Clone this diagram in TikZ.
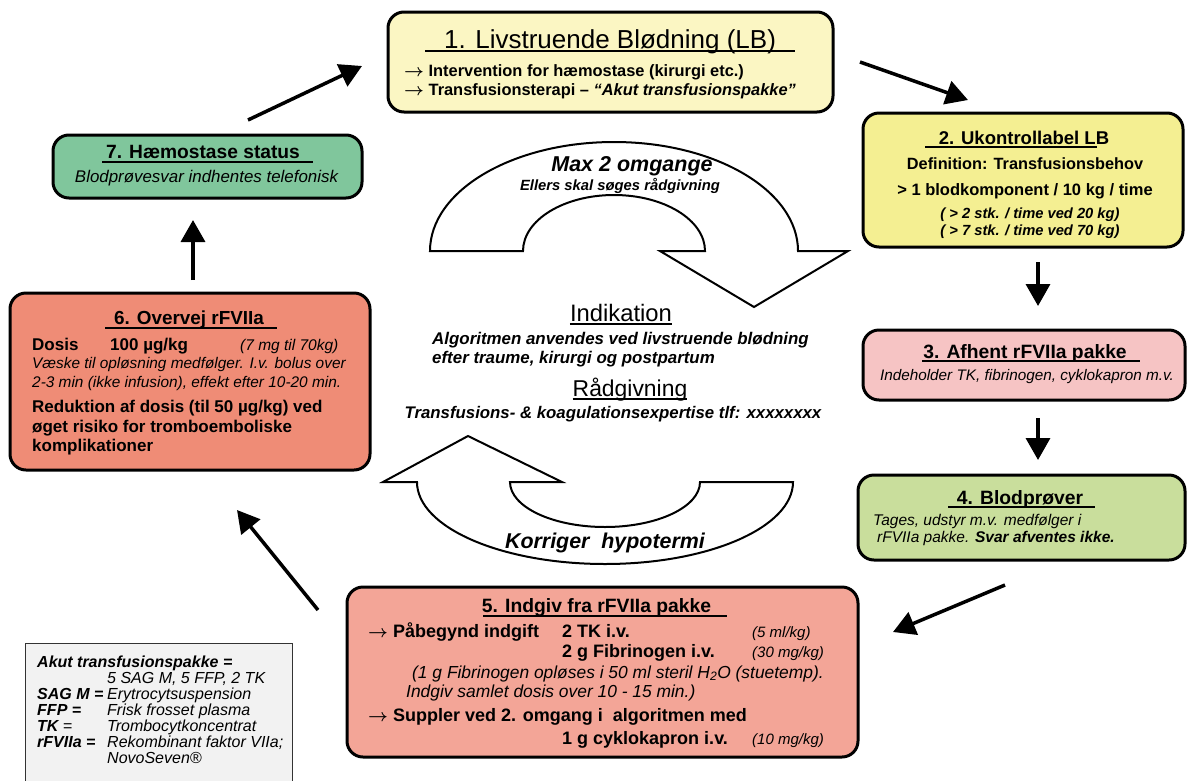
\documentclass[tikz,border=0pt]{standalone}
\usepackage{fontspec}
\setmainfont{Liberation Sans}
\usetikzlibrary{arrows.meta}
\newcommand\fsz[1]{\fontsize{#1}{#1}\selectfont}
\newcommand\arw{\ensuremath{\boldsymbol{\rightarrow}}}
\usepackage{amsmath}
\definecolor{cone}{HTML}{FBF6C3}
\definecolor{ctwo}{HTML}{F4EF92}
\definecolor{cthree}{HTML}{F6C4C4}
\definecolor{cfour}{HTML}{C9DE9C}
\definecolor{cfive}{HTML}{F3A597}
\definecolor{csix}{HTML}{EF8C76}
\definecolor{cseven}{HTML}{80C69C}
\definecolor{cleg}{HTML}{F2F2F2}
\begin{document}
\begin{tikzpicture}[x=1pt,y=-1pt,
  box/.style={draw=black, line width=3pt, rounded corners=16pt, inner sep=0pt},
  lt/.style={inner sep=0pt, anchor=base west},
  ct/.style={inner sep=0pt, anchor=base},
  ul/.style={line width=1.8pt},
  flow/.style={line width=3.5pt, -{Triangle[length=22pt,width=24pt]}},
  big/.style={draw=black, line width=2pt, fill=white, line join=miter}
]
\useasboundingbox (0,0) rectangle (1187,780);

% ---------- Box 1
\node[box, fill=cone, minimum width=445pt, minimum height=100pt] (b1) at (610.5,62) {};
\node[ct, font=\fsz{26}] (t1) at (610,48) {1. Livstruende Blødning (LB)};
\draw[ul] (425,51) -- (795,51);
\node[lt, font=\bfseries\fsz{16.4}] (l11) at (404,76) {\arw\ Intervention for hæmostase (kirurgi etc.)};
\node[lt, font=\bfseries\fsz{16.4}] (l12) at (404,95) {\arw\ Transfusionsterapi – \textit{“Akut transfusionspakke”}};

% ---------- Box 2
\node[box, fill=ctwo, minimum width=320pt, minimum height=134pt] (b2) at (1023,180) {};
\node[ct, font=\bfseries\fsz{18.5}] (t2) at (1024,144) {2. Ukontrollabel LB};
\draw[ul] (925,147) -- (1097,147);
\node[ct, font=\bfseries\fsz{16.3}] (l21) at (1025,169) {Definition: Transfusionsbehov};
\node[ct, font=\bfseries\fsz{16.5}] (l22) at (1025,195) {> 1 blodkomponent / 10 kg / time};
\node[ct, font=\bfseries\itshape\fsz{14.7}] (l23) at (1030,218) {( > 2 stk. / time ved 20 kg)};
\node[ct, font=\bfseries\itshape\fsz{14.7}] (l24) at (1030,235) {( > 7 stk. / time ved 70 kg)};

% ---------- Box 3
\node[box, fill=cthree, minimum width=322pt, minimum height=70pt] (b3) at (1024,365) {};
\node[ct, font=\bfseries\fsz{19.3}] (t3) at (1025,358) {3. Afhent rFVIIa pakke};
\draw[ul] (922,361) -- (1140,361);
\node[ct, font=\itshape\fsz{15.3}] (l31) at (1027,380) {Indeholder TK, fibrinogen, cyklokapron m.v.};

% ---------- Box 4
\node[box, fill=cfour, minimum width=327pt, minimum height=85pt] (b4) at (1021.5,517.5) {};
\node[ct, font=\bfseries\fsz{19.3}] (t4) at (1020,504) {4. Blodprøver};
\draw[ul] (948,507) -- (1095,507);
\node[lt, font=\itshape\fsz{15.5}] (l41) at (873,525) {Tages, udstyr m.v. medfølger i};
\node[lt, font=\itshape\fsz{15.5}] (l42) at (877,542) {rFVIIa pakke. \textbf{Svar afventes ikke.}};

% ---------- Box 5
\node[box, fill=cfive, minimum width=511pt, minimum height=170pt] (b5) at (602.5,672) {};
\node[ct, font=\bfseries\fsz{19.3}] (t5) at (596.5,612) {5. Indgiv fra rFVIIa pakke};
\draw[ul] (483,616) -- (727,616);
\node[lt, font=\bfseries\fsz{18}] (l51) at (368,637) {\arw\ Påbegynd indgift};
\node[lt, font=\bfseries\fsz{18}] (l52) at (562,637) {2 TK i.v.};
\node[lt, font=\itshape\fsz{15}] (l53) at (752,637) {(5 ml/kg)};
\node[lt, font=\bfseries\fsz{18}] (l54) at (562,657) {2 g Fibrinogen i.v.};
\node[lt, font=\itshape\fsz{15}] (l55) at (752,657) {(30 mg/kg)};
\node[lt, font=\itshape\fsz{17.4}] (l56) at (412,678) {(1 g Fibrinogen opløses i 50 ml steril H\textsubscript{2}O (stuetemp).};
\node[lt, font=\itshape\fsz{17.4}] (l57) at (406,697) {Indgiv samlet dosis over 10 - 15 min.)};
\node[lt, font=\bfseries\fsz{18}] (l58) at (368,721) {\arw\ Suppler ved 2. omgang i\ \ algoritmen med};
\node[lt, font=\bfseries\fsz{18}] (l59) at (562,744) {1 g cyklokapron i.v.};
\node[lt, font=\itshape\fsz{15}] (l510) at (752,744) {(10 mg/kg)};

% ---------- Box 6
\node[box, fill=csix, minimum width=360pt, minimum height=177pt] (b6) at (190,381.5) {};
\node[ct, font=\bfseries\fsz{18.9}] (t6) at (189,324) {6. Overvej rFVIIa};
\draw[ul] (105,328) -- (277,328);
\node[lt, font=\bfseries\fsz{17}] (l61) at (32,350) {Dosis};
\node[lt, font=\bfseries\fsz{17}] (l62) at (110,350) {100 µg/kg};
\node[lt, font=\itshape\fsz{15.5}] (l63) at (240,350) {(7 mg til 70kg)};
\node[lt, font=\itshape\fsz{15.4}] (l64) at (32,368) {Væske til opløsning medfølger. I.v. bolus over};
\node[lt, font=\itshape\fsz{15.4}] (l65) at (32,387) {2-3 min (ikke infusion), effekt efter 10-20 min.};
\node[lt, font=\bfseries\fsz{17}] (l66) at (32,412) {Reduktion af dosis (til 50 µg/kg) ved};
\node[lt, font=\bfseries\fsz{17}] (l67) at (32,432) {øget risiko for tromboemboliske};
\node[lt, font=\bfseries\fsz{17}] (l68) at (32,451) {komplikationer};

% ---------- Box 7
\node[box, fill=cseven, minimum width=309pt, minimum height=63pt] (b7) at (207.5,166.5) {};
\node[ct, font=\bfseries\fsz{19.2}] (t7) at (203,158) {7. Hæmostase status};
\draw[ul] (102,162) -- (313,162);
\node[ct, font=\itshape\fsz{16.9}] (l71) at (206.5,182) {Blodprøvesvar indhentes telefonisk};

% ---------- Legend
\node[draw=black!80, line width=1pt, fill=cleg, minimum width=267pt, minimum height=147pt, inner sep=0pt] (leg) at (158.5,716.5) {};
\node[lt, font=\bfseries\itshape\fsz{16}] (g1) at (37,667) {Akut transfusionspakke =};
\node[lt, font=\itshape\fsz{16}] (g2) at (107,683) {5 SAG M, 5 FFP, 2 TK};
\node[lt, font=\bfseries\itshape\fsz{16}] (g3) at (37,699) {SAG M =};
\node[lt, font=\itshape\fsz{16}] (g4) at (107,699) {Erytrocytsuspension};
\node[lt, font=\bfseries\itshape\fsz{16}] (g5) at (37,715) {FFP =};
\node[lt, font=\itshape\fsz{16}] (g6) at (107,715) {Frisk frosset plasma};
\node[lt, font=\itshape\fsz{16}] (g7) at (37,731) {\textbf{TK} =};
\node[lt, font=\itshape\fsz{16}] (g8) at (107,731) {Trombocytkoncentrat};
\node[lt, font=\bfseries\itshape\fsz{16}] (g9) at (37,747) {rFVIIa =};
\node[lt, font=\itshape\fsz{16}] (g10) at (107,747) {Rekombinant faktor VIIa;};
\node[lt, font=\itshape\fsz{16}] (g11) at (107,763) {NovoSeven®};

% ---------- Big curved arrows
\draw[big] (430,251) arc[start angle=180, end angle=360, x radius=184, y radius=109]
  -- (848,251) -- (754,307) -- (660,251) -- (705,251)
  arc[start angle=0, end angle=-180, x radius=91, y radius=56] -- cycle;
\draw[big] (417,482) -- (383,482) -- (468,436) -- (562,482) -- (510,482)
  arc[start angle=180, end angle=0, x radius=95, y radius=45]
  -- (793,482) arc[start angle=0, end angle=180, x radius=188, y radius=82] -- cycle;

% ---------- Centre texts
\node[ct, font=\bfseries\itshape\fsz{21.5}] (m1) at (632,171) {Max 2 omgange};
\node[ct, font=\bfseries\itshape\fsz{14.8}] (m2) at (620,190) {Ellers skal søges rådgivning};
\node[ct, font=\fsz{23.8}] (m3) at (621,321) {Indikation};
\draw[line width=1.5pt] ([yshift=-3pt]m3.base west) -- ([yshift=-3pt]m3.base east);
\node[lt, font=\bfseries\itshape\fsz{16.9}] (m4) at (432,344) {Algoritmen anvendes ved livstruende blødning};
\node[lt, font=\bfseries\itshape\fsz{16.9}] (m5) at (432,363) {efter traume, kirurgi og postpartum};
\node[ct, font=\fsz{22.9}] (m6) at (630,396) {Rådgivning};
\draw[line width=1.5pt] ([yshift=-3pt]m6.base west) -- ([yshift=-3pt]m6.base east);
\node[ct, font=\bfseries\itshape\fsz{16.8}] (m7) at (613,418) {Transfusions- \& koagulationsexpertise tlf: xxxxxxxx};
\node[ct, font=\bfseries\itshape\fsz{21.4}] (m8) at (605,548) {Korriger\ \ hypotermi};

% ---------- Flow arrows
\coordinate (a1s) at (248,120); \coordinate (a1e) at (362,66);
\coordinate (a2s) at (860,62);  \coordinate (a2e) at (968,100);
\coordinate (a3s) at (1038,262); \coordinate (a3e) at (1038,306);
\coordinate (a4s) at (1038,418); \coordinate (a4e) at (1038,460);
\coordinate (a5s) at (1005,585); \coordinate (a5e) at (893,632);
\coordinate (a6s) at (318,610); \coordinate (a6e) at (237,510);
\coordinate (a7s) at (193,280); \coordinate (a7e) at (193,220);
\draw[flow] (a1s) -- (a1e);
\draw[flow] (a2s) -- (a2e);
\draw[flow] (a3s) -- (a3e);
\draw[flow] (a4s) -- (a4e);
\draw[flow] (a5s) -- (a5e);
\draw[flow] (a6s) -- (a6e);
\draw[flow] (a7s) -- (a7e);
\end{tikzpicture}
\end{document}
